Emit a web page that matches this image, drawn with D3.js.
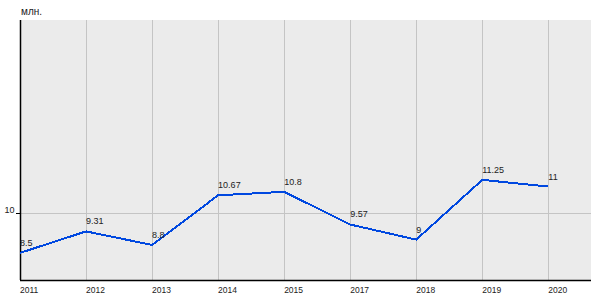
<!DOCTYPE html>
<html><head><meta charset="utf-8">
<script src="https://cdn.jsdelivr.net/npm/d3@7"></script>
<style>
body{margin:0;background:#fff;}
text{font-family:"Liberation Sans",Arial,sans-serif;fill:#222;}
</style></head>
<body><svg id="c" width="600" height="300"></svg>
<script>
const years = ["2011","2012","2013","2014","2015","2017","2018","2019","2020"];
const values = [8.5, 9.31, 8.8, 10.67, 10.8, 9.57, 9, 11.25, 11];
const valueLabels = ["8.5","9.31","8.8","10.67","10.8","9.57","9","11.25","11"];
const yTicks = [10];
const unitLabel = "млн.";

const svg = d3.select("#c");
const L = 20, R = 591, T = 20, B = 280;
const x = d3.scalePoint().domain(years).range([L, 548.3]);
const y = d3.scaleLinear().domain([7.48, 17.27]).range([B, T]);

svg.append("rect").attr("x", L).attr("y", T).attr("width", R - L).attr("height", B - T).attr("fill", "#ebebeb");

svg.append("g").selectAll("line").data(years).join("line")
  .attr("x1", d => Math.round(x(d)) + 0.5).attr("x2", d => Math.round(x(d)) + 0.5)
  .attr("y1", T).attr("y2", B).attr("stroke", "#c4c4c4").attr("stroke-width", 1);

svg.append("g").selectAll("line").data(yTicks).join("line")
  .attr("x1", L).attr("x2", R)
  .attr("y1", d => Math.round(y(d)) + 0.5).attr("y2", d => Math.round(y(d)) + 0.5)
  .attr("stroke", "#c4c4c4");

svg.append("g").selectAll("line").data(yTicks).join("line")
  .attr("x1", 16).attr("x2", L)
  .attr("y1", d => Math.round(y(d)) + 0.5).attr("y2", d => Math.round(y(d)) + 0.5)
  .attr("stroke", "#000");
svg.append("g").selectAll("text").data(yTicks).join("text")
  .attr("x", 14.5).attr("y", d => y(d)).attr("text-anchor", "end")
  .attr("font-size", "9px").text(d => d);

svg.append("line").attr("x1", L + 0.5).attr("x2", L + 0.5).attr("y1", T).attr("y2", B).attr("stroke", "#000").attr("stroke-width", 1.5);
svg.append("line").attr("x1", L).attr("x2", R).attr("y1", B + 0.5).attr("y2", B + 0.5).attr("stroke", "#000").attr("stroke-width", 1.5);

svg.append("g").selectAll("text").data(years).join("text")
  .attr("x", d => x(d)).attr("y", 293).attr("font-size", "8.5px").text(d => d);

const line = d3.line().x((d, i) => x(years[i])).y(d => y(d));
svg.append("path").datum(values).attr("d", line).attr("fill", "none")
  .attr("stroke", "#0048e0").attr("stroke-width", 2).attr("shape-rendering", "crispEdges");

svg.append("g").selectAll("text").data(values).join("text")
  .attr("x", (d, i) => x(years[i])).attr("y", d => y(d) - 7)
  .attr("font-size", "9px").text((d, i) => valueLabels[i]);

svg.append("text").attr("x", 21).attr("y", 15).attr("font-size", "10px").text(unitLabel);
</script></body></html>
